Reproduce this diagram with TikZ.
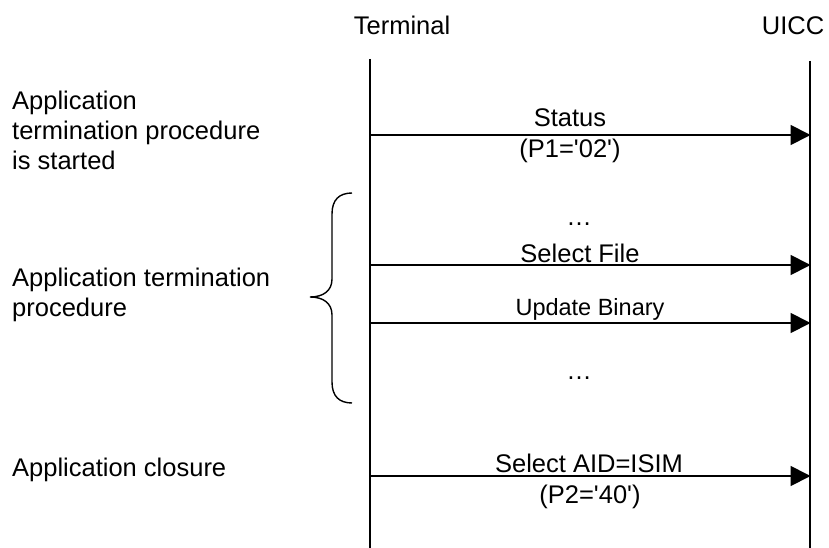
\documentclass[tikz,border=0pt]{standalone}
\usepackage{fontspec}
\setmainfont{Liberation Sans}
\usetikzlibrary{arrows.meta}
\tikzset{
  lbl/.style={inner sep=0pt, font=\fontsize{25.5}{30}\selectfont},
  smalllbl/.style={inner sep=0pt, font=\fontsize{23.5}{28}\selectfont},
  side/.style={inner sep=0pt, anchor=west, align=left, font=\fontsize{25.5}{30}\selectfont},
  life/.style={line width=1.8pt},
  msg/.style={line width=1.8pt, -{Triangle[length=20pt,width=20pt]}, shorten >=-0.5pt},
  bracepath/.style={line width=1.4pt}
}
\newcommand{\sq}{\textquotesingle}
\begin{document}
\begin{tikzpicture}[x=1pt,y=-1pt]
\useasboundingbox (0,0) rectangle (829,548);
% headers
\node[lbl, anchor=base] (term) at (402,35) {Terminal};
\node[lbl, anchor=base] (uicc) at (793,35) {UICC};
% lifelines
\coordinate (tTop) at (370,59);
\coordinate (tBot) at (370,548);
\coordinate (uTop) at (810,61);
\coordinate (uBot) at (810,548);
\draw[life] (tTop) -- (tBot);
\draw[life] (uTop) -- (uBot);
% message anchors
\coordinate (s1) at (370,135);  \coordinate (e1) at (810,135);
\coordinate (s2) at (370,265);  \coordinate (e2) at (810,265);
\coordinate (s3) at (370,323);  \coordinate (e3) at (810,323);
\coordinate (s4) at (370,476);  \coordinate (e4) at (810,476);
\draw[msg] (s1) -- (e1);
\draw[msg] (s2) -- (e2);
\draw[msg] (s3) -- (e3);
\draw[msg] (s4) -- (e4);
% message labels
\node[lbl] (status) at (570,118) {Status};
\node[lbl] (p1) at (570,151) {(P1=\sq 02\sq)};
\node[lbl] (dots1) at (579,224) {…};
\node[lbl] (selfile) at (580,253) {Select File};
\node[smalllbl] (updbin) at (590,309) {Update Binary};
\node[lbl] (dots2) at (579,378) {…};
\node[lbl] (selaid) at (589,463) {Select AID=ISIM};
\node[lbl] (p2) at (590,497) {(P2=\sq 40\sq)};
% side texts
\node[side] (started) at (12,130) {Application\\termination procedure\\is started};
\node[side] (proc) at (12,295) {Application termination\\procedure};
\node[side] (closure) at (12,470) {Application closure};
% brace
\draw[bracepath] (352,193) .. controls (339,193) and (332,200) .. (332,214)
  -- (332,279) .. controls (332,291) and (323,297) .. (310,297)
  .. controls (323,297) and (332,303) .. (332,315)
  -- (332,382) .. controls (332,396) and (339,403) .. (352,403);
\end{tikzpicture}
\end{document}
